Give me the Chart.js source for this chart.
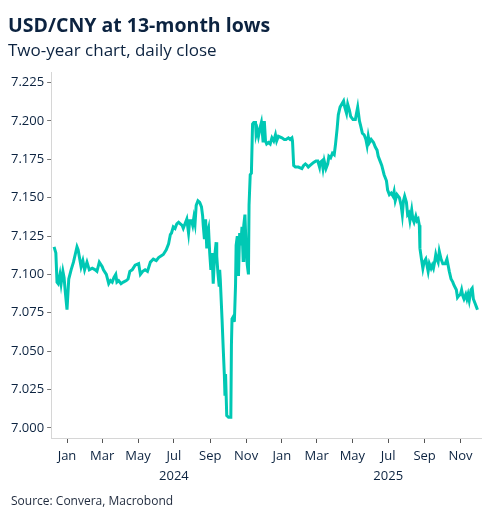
<!DOCTYPE html>
<html>
<head>
<meta charset="utf-8">
<title>USD/CNY at 13-month lows</title>
<script src="https://cdn.jsdelivr.net/npm/chart.js@4.4.1/dist/chart.umd.min.js"></script>
<style>
  html, body { margin: 0; padding: 0; background: #ffffff; }
  canvas { display: block; }
</style>
</head>
<body>
<canvas id="fxChart" width="497" height="518"></canvas>
<script>
// USD/CNY daily close
const closeDates = [
  "2023-12-10", "2023-12-13", "2023-12-15", "2023-12-17", "2023-12-20", "2023-12-22", "2023-12-25", "2023-12-27", "2023-12-29",
  "2024-01-01", "2024-01-04", "2024-01-08", "2024-01-12", "2024-01-15", "2024-01-18", "2024-01-20", "2024-01-25", "2024-01-28", "2024-01-31",
  "2024-02-04", "2024-02-08", "2024-02-13", "2024-02-18", "2024-02-21", "2024-02-25",
  "2024-03-01", "2024-03-03", "2024-03-08", "2024-03-12", "2024-03-15", "2024-03-18", "2024-03-21", "2024-03-24", "2024-03-26", "2024-03-29",
  "2024-04-02", "2024-04-06", "2024-04-11", "2024-04-14", "2024-04-17", "2024-04-21", "2024-04-26",
  "2024-05-02", "2024-05-05", "2024-05-09", "2024-05-13", "2024-05-17", "2024-05-22", "2024-05-27",
  "2024-06-01", "2024-06-05", "2024-06-09", "2024-06-13", "2024-06-18", "2024-06-22", "2024-06-25", "2024-06-27", "2024-06-30",
  "2024-07-03", "2024-07-06", "2024-07-09", "2024-07-12", "2024-07-15", "2024-07-17", "2024-07-20", "2024-07-23", "2024-07-26", "2024-07-28", "2024-07-31",
  "2024-08-02", "2024-08-04", "2024-08-06", "2024-08-08", "2024-08-11", "2024-08-14", "2024-08-17", "2024-08-19", "2024-08-20", "2024-08-22",
  "2024-08-24", "2024-08-26", "2024-08-27", "2024-08-29", "2024-08-31",
  "2024-09-02", "2024-09-04", "2024-09-06", "2024-09-08", "2024-09-11", "2024-09-12", "2024-09-14", "2024-09-16", "2024-09-17", "2024-09-18",
  "2024-09-21", "2024-09-23", "2024-09-25", "2024-09-26", "2024-09-27", "2024-09-29",
  "2024-10-02", "2024-10-06", "2024-10-07", "2024-10-08", "2024-10-11", "2024-10-12", "2024-10-14", "2024-10-15", "2024-10-17", "2024-10-19",
  "2024-10-21", "2024-10-23", "2024-10-25", "2024-10-27", "2024-10-28", "2024-10-30",
  "2024-11-01", "2024-11-03", "2024-11-05", "2024-11-06", "2024-11-08", "2024-11-10", "2024-11-12", "2024-11-14", "2024-11-17", "2024-11-18",
  "2024-11-20", "2024-11-22", "2024-11-25", "2024-11-27", "2024-11-28", "2024-11-30",
  "2024-12-02", "2024-12-04", "2024-12-06", "2024-12-09", "2024-12-12", "2024-12-15", "2024-12-18", "2024-12-21", "2024-12-23", "2024-12-26",
  "2025-01-01", "2025-01-05", "2025-01-08", "2025-01-12", "2025-01-15", "2025-01-18", "2025-01-19", "2025-01-21", "2025-01-24", "2025-01-29",
  "2025-02-04", "2025-02-07", "2025-02-10", "2025-02-13", "2025-02-15", "2025-02-18", "2025-02-21", "2025-02-24", "2025-02-28",
  "2025-03-03", "2025-03-06", "2025-03-07", "2025-03-10", "2025-03-12", "2025-03-14", "2025-03-17", "2025-03-20", "2025-03-22", "2025-03-25",
  "2025-03-28", "2025-03-31",
  "2025-04-02", "2025-04-05", "2025-04-07", "2025-04-10", "2025-04-13", "2025-04-16", "2025-04-18", "2025-04-21", "2025-04-23", "2025-04-26", "2025-04-28",
  "2025-05-02", "2025-05-06", "2025-05-08", "2025-05-10", "2025-05-13", "2025-05-15", "2025-05-18", "2025-05-21", "2025-05-24", "2025-05-26",
  "2025-05-28", "2025-05-30",
  "2025-06-02", "2025-06-06", "2025-06-09", "2025-06-12", "2025-06-14", "2025-06-17", "2025-06-20", "2025-06-24", "2025-06-28", "2025-06-30",
  "2025-07-03", "2025-07-06", "2025-07-09", "2025-07-11", "2025-07-13", "2025-07-16", "2025-07-18", "2025-07-20", "2025-07-23", "2025-07-25",
  "2025-07-27", "2025-07-29",
  "2025-08-01", "2025-08-03", "2025-08-05", "2025-08-07", "2025-08-10", "2025-08-12", "2025-08-14", "2025-08-17", "2025-08-19", "2025-08-21",
  "2025-08-23", "2025-08-24", "2025-08-27", "2025-08-29", "2025-08-31",
  "2025-09-03", "2025-09-05", "2025-09-07", "2025-09-09", "2025-09-12", "2025-09-14", "2025-09-16", "2025-09-18", "2025-09-20", "2025-09-22",
  "2025-09-24", "2025-09-26", "2025-09-29",
  "2025-10-02", "2025-10-06", "2025-10-09", "2025-10-11", "2025-10-13", "2025-10-16", "2025-10-19", "2025-10-21", "2025-10-25", "2025-10-27", "2025-10-29",
  "2025-11-01", "2025-11-03", "2025-11-05", "2025-11-07", "2025-11-10", "2025-11-12", "2025-11-14", "2025-11-16", "2025-11-19", "2025-11-21",
  "2025-11-23", "2025-11-26", "2025-11-28", "2025-11-30"
];

const closeValues = [
  7.118, 7.114, 7.095, 7.094, 7.100, 7.094, 7.102, 7.098, 7.089,
  7.077, 7.097, 7.103, 7.108, 7.113, 7.118, 7.116, 7.105, 7.109, 7.103,
  7.108, 7.103, 7.104, 7.103, 7.102, 7.108,
  7.105, 7.103, 7.100, 7.094, 7.096, 7.095, 7.098, 7.100, 7.095, 7.096,
  7.094, 7.095, 7.096, 7.097, 7.102, 7.103, 7.106,
  7.107, 7.100, 7.102, 7.103, 7.102, 7.108, 7.110,
  7.109, 7.111, 7.112, 7.113, 7.116, 7.120, 7.126, 7.127, 7.131,
  7.130, 7.133, 7.134, 7.133, 7.132, 7.130, 7.133, 7.136, 7.127, 7.135, 7.135,
  7.132, 7.137, 7.133, 7.145, 7.148, 7.147, 7.144, 7.138, 7.132, 7.123,
  7.136, 7.117, 7.127, 7.130, 7.114,
  7.103, 7.114, 7.094, 7.110, 7.121, 7.112, 7.101, 7.093, 7.103, 7.097,
  7.071, 7.052, 7.034, 7.021, 7.035, 7.008,
  7.007, 7.007, 7.054, 7.071, 7.073, 7.069, 7.093, 7.119, 7.125, 7.099,
  7.127, 7.119, 7.131, 7.109, 7.132, 7.139,
  7.117, 7.106, 7.100, 7.145, 7.165, 7.166, 7.198, 7.199, 7.199, 7.191,
  7.194, 7.190, 7.196, 7.199, 7.195, 7.186,
  7.200, 7.187, 7.185, 7.186, 7.185, 7.189, 7.187, 7.191, 7.187, 7.190,
  7.189, 7.188, 7.188, 7.189, 7.188, 7.189, 7.187, 7.171, 7.170, 7.170,
  7.169, 7.171, 7.172, 7.171, 7.170, 7.171, 7.172, 7.173, 7.174,
  7.174, 7.170, 7.173, 7.174, 7.169, 7.174, 7.169, 7.172, 7.177, 7.176,
  7.179, 7.178,
  7.184, 7.195, 7.204, 7.209, 7.211, 7.213, 7.209, 7.205, 7.211, 7.207, 7.203,
  7.201, 7.201, 7.205, 7.209, 7.200, 7.197, 7.192, 7.191, 7.188, 7.184,
  7.190, 7.186,
  7.188, 7.186, 7.183, 7.181, 7.177, 7.174, 7.171, 7.165, 7.161, 7.155,
  7.152, 7.153, 7.151, 7.154, 7.148, 7.152, 7.151, 7.150, 7.145, 7.139,
  7.148, 7.151,
  7.147, 7.139, 7.140, 7.135, 7.142, 7.136, 7.134, 7.138, 7.135, 7.136,
  7.132, 7.117, 7.109, 7.104, 7.108,
  7.110, 7.106, 7.102, 7.107, 7.104, 7.106, 7.104, 7.108, 7.113, 7.110,
  7.108, 7.115, 7.110,
  7.107, 7.107, 7.110, 7.106, 7.102, 7.097, 7.095, 7.093, 7.090, 7.085, 7.086,
  7.087, 7.090, 7.086, 7.084, 7.087, 7.084, 7.087, 7.083, 7.090, 7.091,
  7.084, 7.081, 7.079, 7.077
];

// axis ticks
const xTickDates = ["2024-01-01", "2024-03-01", "2024-05-01", "2024-07-01", "2024-09-01", "2024-11-01",
                    "2025-01-01", "2025-03-01", "2025-05-01", "2025-07-01", "2025-09-01", "2025-11-01"];
const xTickLabels = ["Jan", "Mar", "May", "Jul", "Sep", "Nov", "Jan", "Mar", "May", "Jul", "Sep", "Nov"];
const yearLabels = ["", "", "", "2024", "", "", "", "", "", "2025", "", ""];
const yTicks = [7.000, 7.025, 7.050, 7.075, 7.100, 7.125, 7.150, 7.175, 7.200, 7.225];

const xRange = ["2023-12-05", "2025-12-06"];
const yRange = [6.9934, 7.2314];

const titleText = "USD/CNY at 13-month lows";
const subtitleText = "Two-year chart, daily close";
const sourceText = "Source: Convera, Macrobond";

const NAVY = "#0c2340";
const TEAL = "#00c8b4";
const FONT = "'Open Sans', 'Noto Sans', sans-serif";

// days since 1 Jan 2024
function dayOf(iso) {
  const [y, m, d] = iso.split("-").map(Number);
  return (Date.UTC(y, m - 1, d) - Date.UTC(2024, 0, 1)) / 86400000;
}

const points = closeDates.map((d, i) => ({ x: dayOf(d), y: closeValues[i] }));

// footer note under the axis
const sourcePlugin = {
  id: "sourceNote",
  afterDraw(chart) {
    const ctx = chart.ctx;
    ctx.save();
    ctx.font = "12px " + FONT;
    ctx.fillStyle = "#1f2a3d";
    ctx.textAlign = "left";
    ctx.textBaseline = "middle";
    ctx.fillText(sourceText, 11, 502);
    ctx.restore();
  }
};

const ctx = document.getElementById("fxChart").getContext("2d");

new Chart(ctx, {
  type: "line",
  data: {
    datasets: [
      {
        label: "USD/CNY",
        data: points,
        borderColor: TEAL,
        borderWidth: 3,
        pointRadius: 0,
        tension: 0,
        fill: false
      }
    ]
  },
  options: {
    responsive: false,
    animation: false,
    events: [],
    layout: {
      padding: { left: 8, right: 16, top: 0, bottom: 28 }
    },
    plugins: {
      legend: { display: false },
      tooltip: { enabled: false },
      title: {
        display: true,
        text: titleText,
        align: "start",
        color: NAVY,
        font: { family: FONT, size: 19.5, weight: "bold", lineHeight: 1.2 },
        padding: { top: 15, bottom: 0 }
      },
      subtitle: {
        display: true,
        text: subtitleText,
        align: "start",
        color: NAVY,
        font: { family: FONT, size: 17, lineHeight: 1.2 },
        padding: { top: 3, bottom: 11 }
      }
    },
    scales: {
      x: {
        type: "linear",
        min: dayOf(xRange[0]),
        max: dayOf(xRange[1]),
        afterBuildTicks(scale) {
          scale.ticks = xTickDates.map((d) => ({ value: dayOf(d) }));
        },
        ticks: {
          autoSkip: false,
          maxRotation: 0,
          padding: 4,
          color: NAVY,
          font: { family: FONT, size: 13, lineHeight: 1.5 },
          callback: (value, index) =>
            yearLabels[index] ? [xTickLabels[index], yearLabels[index]] : xTickLabels[index]
        },
        grid: {
          drawOnChartArea: false,
          drawTicks: true,
          tickLength: 5,
          tickColor: "#555555"
        },
        border: { display: true, color: "#d6d6d6", width: 1 }
      },
      y: {
        min: yRange[0],
        max: yRange[1],
        afterBuildTicks(scale) {
          scale.ticks = yTicks.map((v) => ({ value: v }));
        },
        ticks: {
          padding: 3,
          color: NAVY,
          font: { family: FONT, size: 13 },
          callback: (value) => Number(value).toFixed(3)
        },
        grid: {
          drawOnChartArea: false,
          drawTicks: true,
          tickLength: 4,
          tickColor: "#777777"
        },
        border: { display: true, color: "#d6d6d6", width: 1 }
      }
    }
  },
  plugins: [sourcePlugin]
});
</script>
</body>
</html>
